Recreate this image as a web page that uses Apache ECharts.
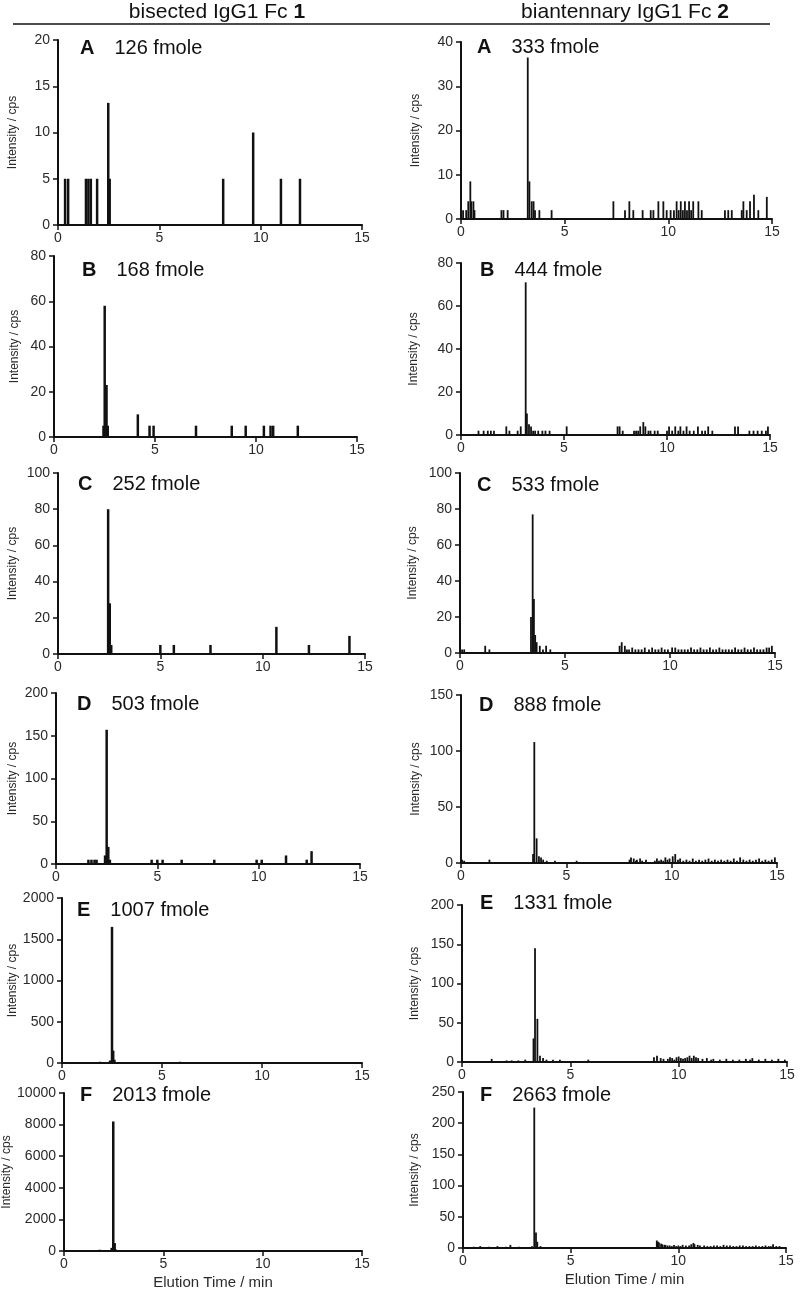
<!DOCTYPE html>
<html><head><meta charset="utf-8">
<script src="https://cdn.jsdelivr.net/npm/echarts/dist/echarts.min.js"></script>
<style>html,body{margin:0;padding:0;background:#fff}#c{width:800px;height:1296px}</style>
</head><body><div id="c"></div>
<script>
// ---------- headers & labels ----------
const colHeaders = ['bisected IgG1 Fc ', 'biantennary IgG1 Fc '];
const colNumbers = ['1', '2'];
const panelLetters = ['A','B','C','D','E','F','A','B','C','D','E','F'];
const panelAmounts = ['126 fmole','168 fmole','252 fmole','503 fmole','1007 fmole','2013 fmole',
                      '333 fmole','444 fmole','533 fmole','888 fmole','1331 fmole','2663 fmole'];
const xTicks = [0, 5, 10, 15];
const yMaxes = [20, 80, 100, 200, 2000, 10000, 40, 80, 100, 150, 200, 250];
const yIntervals = [5, 20, 20, 50, 500, 2000, 10, 20, 20, 50, 50, 50];
const xTitle = 'Elution Time / min';
const yTitle = 'Intensity / cps';

// ---------- data: elution time (min) / intensity (cps) ----------
// Left column: bisected IgG1 Fc 1
const tL_A = [0.35, 0.5, 1.38, 1.5, 1.62, 1.93, 2.48, 2.55, 8.15, 9.63, 11.0, 11.94];
const iL_A = [5, 5, 5, 5, 5, 5, 13.2, 5, 5, 10, 5, 5];
const tL_B = [2.45, 2.51, 2.6, 2.66, 4.15, 4.73, 4.93, 7.03, 8.8, 9.49, 10.39, 10.72, 10.85, 12.07];
const iL_B = [5, 58, 23, 5, 10, 5, 5, 5, 5, 5, 5, 5, 5, 5];
const tL_C = [2.45, 2.53, 2.6, 5.0, 5.66, 7.45, 10.67, 12.26, 14.24];
const iL_C = [80, 28, 5, 5, 5, 5, 15, 5, 10];
const tL_D = [1.6, 1.75, 1.9, 2.0, 2.42, 2.5, 2.58, 2.66, 4.72, 5.0, 5.26, 6.2, 7.81, 9.9, 10.15, 11.35, 12.37, 12.61];
const iL_D = [5, 5, 5, 5, 10, 157, 20, 5, 5, 5, 5, 5, 5, 5, 5, 10, 5, 15];
const tL_E = [1.7, 1.9, 2.1, 2.4, 2.5, 2.56, 2.62, 3.2, 3.8, 4.6, 5.9, 9.5];
const iL_E = [10, 15, 10, 30, 1650, 150, 40, 10, 10, 10, 15, 10];
const tL_F = [1.6, 1.8, 2.0, 2.4, 2.48, 2.55, 2.6, 3.0, 4.2, 5.5, 7.5];
const iL_F = [50, 80, 40, 200, 8200, 500, 100, 40, 30, 30, 20];
// Right column: biantennary IgG1 Fc 2
const tR_A = [0.1, 0.25, 0.35, 0.45, 0.5, 0.6, 0.65, 1.95, 2.05, 2.25, 3.22, 3.3, 3.41, 3.5, 3.57, 3.78, 4.37,
  7.35, 7.91, 8.12, 8.31, 8.76, 9.15, 9.28, 9.52, 9.76, 9.92, 10.11, 10.27, 10.4, 10.5, 10.6, 10.7, 10.8, 10.9,
  11.0, 11.1, 11.2, 11.45, 11.61, 12.73, 12.89, 13.06, 13.54, 13.62, 13.78, 13.94, 14.13, 14.34, 14.75];
const iR_A = [2, 2, 4, 8.5, 4, 4, 2, 2, 2, 2, 36.5, 8.5, 4, 4, 2, 2, 2,
  4, 2, 4, 2, 2, 2, 2, 4, 4, 2, 2, 2, 4, 2, 4, 2, 4, 2,
  4, 2, 4, 4, 2, 2, 2, 2, 2, 4, 2, 4, 5.5, 2, 5];
const tR_B = [0.85, 1.1, 1.3, 1.45, 1.6, 2.2, 2.35, 2.75, 2.9, 3.14, 3.2, 3.3, 3.4, 3.5, 3.6, 3.75, 3.95, 4.1, 4.3,
  5.13, 7.6, 7.7, 7.85, 8.4, 8.5, 8.6, 8.7, 8.85, 8.95, 9.1, 9.2, 9.4, 9.55, 10.0, 10.1, 10.25, 10.4, 10.55,
  10.65, 10.8, 10.95, 11.1, 11.3, 11.5, 11.7, 11.85, 12.0, 12.2, 13.3, 13.45, 14.0, 14.2, 14.4, 14.6, 14.8, 14.9];
const iR_B = [2, 2, 2, 2, 2, 4, 2, 2, 4, 71, 10, 5, 4, 2, 2, 2, 2, 2, 2,
  4, 4, 4, 2, 2, 2, 2, 4, 6, 4, 2, 2, 2, 2, 2, 4, 2, 4, 2,
  4, 2, 4, 2, 2, 4, 2, 2, 4, 2, 4, 4, 2, 2, 2, 2, 2, 4];
const tR_C = [0.1, 0.2, 1.2, 1.4, 3.38, 3.46, 3.52, 3.58, 3.65, 3.8, 3.95, 4.1, 4.3, 7.6, 7.7, 7.85, 7.95,
  8.05, 8.2, 8.35, 8.5, 8.65, 8.8, 9.0, 9.15, 9.3, 9.45, 9.6, 9.75, 9.9, 10.1, 10.25, 10.4, 10.55, 10.7, 10.85,
  11.0, 11.15, 11.3, 11.45, 11.6, 11.75, 11.9, 12.05, 12.2, 12.35, 12.5, 12.65, 12.8, 12.95,
  13.1, 13.25, 13.4, 13.55, 13.7, 13.85, 14.0, 14.15, 14.3, 14.45, 14.6, 14.72, 14.85];
const iR_C = [2, 2, 4, 2, 20, 77, 30, 10, 6, 4, 2, 4, 2, 4, 6, 4, 2,
  2, 3, 2, 2, 2, 3, 2, 3, 2, 2, 3, 2, 2, 3, 3, 2, 2, 2, 2,
  3, 2, 2, 3, 2, 2, 3, 2, 2, 3, 2, 2, 2, 2,
  3, 2, 2, 3, 2, 2, 3, 2, 2, 2, 3, 3, 4];
const tR_D = [0.05, 0.15, 1.35, 3.42, 3.48, 3.59, 3.7, 3.8, 3.9, 4.07, 4.46, 5.49,
  8.0, 8.07, 8.2, 8.3, 8.35, 8.5, 8.6, 8.78, 9.2, 9.3, 9.4, 9.5, 9.6, 9.7, 9.8, 9.9,
  10.05, 10.17, 10.3, 10.4, 10.55, 10.7, 10.85, 11.0, 11.15, 11.3, 11.45, 11.6, 11.75, 11.9,
  12.05, 12.2, 12.35, 12.5, 12.65, 12.8, 12.95, 13.1, 13.25, 13.4, 13.55, 13.7, 13.85,
  14.0, 14.15, 14.3, 14.45, 14.6, 14.75, 14.9];
const iR_D = [3, 2, 3, 8, 108, 22, 6, 5, 3, 2, 2, 2,
  3, 5, 4, 2, 3, 4, 2, 3, 2, 4, 2, 3, 2, 5, 3, 4,
  6, 8, 3, 4, 2, 3, 2, 4, 2, 3, 2, 3, 4,
  2, 3, 2, 3, 2, 3, 2, 4, 2, 5, 3, 2, 3,
  2, 3, 4, 2, 3, 2, 3, 5];
const tR_E = [1.37, 2.06, 2.29, 2.6, 2.92, 3.3, 3.37, 3.48, 3.6, 3.74, 3.9, 4.2, 4.52, 5.83,
  8.86, 9.0, 9.17, 9.3, 9.5, 9.6, 9.7, 9.8, 9.9,
  10.0, 10.1, 10.2, 10.3, 10.4, 10.5, 10.6, 10.7, 10.8, 10.9,
  11.1, 11.3, 11.5, 11.6, 11.9, 12.2, 12.5, 12.8, 13.1, 13.3, 13.4, 13.7, 14.0, 14.3, 14.6, 14.9];
const iR_E = [4, 2, 2, 2, 3, 30, 145, 55, 8, 5, 3, 3, 3, 3,
  6, 8, 5, 4, 4, 6, 5, 3, 6,
  7, 5, 4, 5, 6, 8, 5, 8, 6, 5,
  4, 5, 3, 4, 3, 4, 3, 3, 4, 3, 5, 3, 4, 3, 4, 3];
const tR_F = [0.5, 0.8, 1.2, 1.6, 2.0, 2.2, 2.6, 3.2, 3.31, 3.39, 3.45, 3.6,
  9.0, 9.05, 9.1, 9.2, 9.25, 9.35, 9.4, 9.5, 9.6, 9.7, 9.8, 9.9,
  10.0, 10.1, 10.2, 10.35, 10.5, 10.6, 10.7, 10.75, 10.9,
  11.0, 11.2, 11.35, 11.5, 11.65, 11.8, 11.95, 12.1, 12.25, 12.4, 12.55, 12.7, 12.85,
  13.0, 13.15, 13.3, 13.45, 13.6, 13.75, 13.9, 14.05, 14.2, 14.3, 14.4, 14.55, 14.7];
const iR_F = [2, 3, 2, 3, 2, 5, 2, 3, 225, 25, 10, 3,
  12, 10, 9, 7, 6, 5, 5, 4, 4, 3, 5, 3,
  4, 3, 5, 4, 4, 6, 8, 6, 5,
  4, 4, 3, 3, 4, 4, 3, 5, 4, 4, 3, 3, 4,
  4, 3, 3, 3, 4, 3, 3, 4, 3, 3, 6, 3, 3];

const times = [tL_A, tL_B, tL_C, tL_D, tL_E, tL_F, tR_A, tR_B, tR_C, tR_D, tR_E, tR_F];
const ints  = [iL_A, iL_B, iL_C, iL_D, iL_E, iL_F, iR_A, iR_B, iR_C, iR_D, iR_E, iR_F];

// ---------- layout ----------
const grids = [
  {left: 58, top: 40, width: 304, height: 185},
  {left: 54, top: 256, width: 303, height: 181},
  {left: 58, top: 473, width: 307, height: 181},
  {left: 56, top: 693, width: 304, height: 171},
  {left: 62, top: 898, width: 300, height: 165},
  {left: 64, top: 1093, width: 298, height: 158},
  {left: 461, top: 42, width: 311, height: 177},
  {left: 461, top: 263, width: 309, height: 172},
  {left: 460, top: 473, width: 315, height: 180},
  {left: 461, top: 695, width: 316, height: 168},
  {left: 462, top: 905, width: 325, height: 157},
  {left: 463, top: 1092, width: 323, height: 156}
];
const yNameGaps = [39, 33, 39, 37, 43, 46, 39, 41, 41, 39, 41, 42];
const labelPos = [[80, 48], [82, 270], [78, 484], [77, 704], [77, 910], [80, 1095],
                  [477, 47], [480, 270], [477, 485], [479, 705], [480, 903], [480, 1095]];

const FONT = '"Liberation Sans", Arial, Helvetica, sans-serif';
const INK = '#111';
const LBL = '#2a2a2a';

const option = {
  animation: false,
  backgroundColor: '#fff',
  grid: grids.map(g => Object.assign({containLabel: false}, g)),
  xAxis: grids.map((g, i) => ({
    type: 'value', gridIndex: i, min: 0, max: 15, interval: 5,
    axisLine: {show: true, onZero: false, lineStyle: {color: INK, width: 2}},
    axisTick: {show: true, length: 5, lineStyle: {color: INK, width: 1.5}},
    axisLabel: {fontSize: 14, color: LBL, margin: 6, fontFamily: FONT,
      formatter: v => xTicks.includes(v) ? String(v) : ''},
    splitLine: {show: false},
    name: (i === 5 || i === 11) ? xTitle : '',
    nameLocation: 'middle', nameGap: 24,
    nameTextStyle: {fontSize: 15, color: LBL, fontFamily: FONT}
  })),
  yAxis: grids.map((g, i) => ({
    type: 'value', gridIndex: i, min: 0, max: yMaxes[i], interval: yIntervals[i],
    axisLine: {show: true, lineStyle: {color: INK, width: 2}},
    axisTick: {show: true, length: 5, lineStyle: {color: INK, width: 1.5}},
    axisLabel: {fontSize: 14, color: LBL, margin: 8, fontFamily: FONT, formatter: v => String(v)},
    splitLine: {show: false},
    name: yTitle, nameLocation: 'middle', nameRotate: 90, nameGap: yNameGaps[i],
    nameTextStyle: {fontSize: 12, color: LBL, fontFamily: FONT}
  })),
  series: times.map((t, i) => ({
    type: 'bar', xAxisIndex: i, yAxisIndex: i,
    data: t.map((x, j) => [x, ints[i][j]]),
    barWidth: i < 6 ? 2.5 : 1.8,
    itemStyle: {color: INK},
    silent: true
  })),
  graphic: [
    {type: 'line', shape: {x1: 13, y1: 24, x2: 770, y2: 24}, style: {stroke: INK, lineWidth: 1.5}},
    {type: 'text', x: 217, y: 12, style: {text: colHeaders[0] + '{b|' + colNumbers[0] + '}',
      rich: {b: {fontWeight: 'bold', fontSize: 21, fontFamily: FONT, fill: INK}},
      fontSize: 21, fontFamily: FONT, fill: INK, align: 'center', verticalAlign: 'middle'}},
    {type: 'text', x: 625, y: 12, style: {text: colHeaders[1] + '{b|' + colNumbers[1] + '}',
      rich: {b: {fontWeight: 'bold', fontSize: 21, fontFamily: FONT, fill: INK}},
      fontSize: 21, fontFamily: FONT, fill: INK, align: 'center', verticalAlign: 'middle'}}
  ].concat(labelPos.map((p, i) => ({
    type: 'text', x: p[0], y: p[1],
    style: {text: '{b|' + panelLetters[i] + '}{t|' + panelAmounts[i] + '}',
      rich: {b: {fontWeight: 'bold', fontSize: 20, fontFamily: FONT, fill: INK},
             t: {fontSize: 20, fontFamily: FONT, fill: INK, padding: [0, 0, 0, 20]}},
      fontSize: 20, fontFamily: FONT, fill: INK, align: 'left', verticalAlign: 'middle'}
  })))
};

const chart = echarts.init(document.getElementById('c'), null, {renderer: 'canvas'});
chart.setOption(option);
</script>
</body></html>
